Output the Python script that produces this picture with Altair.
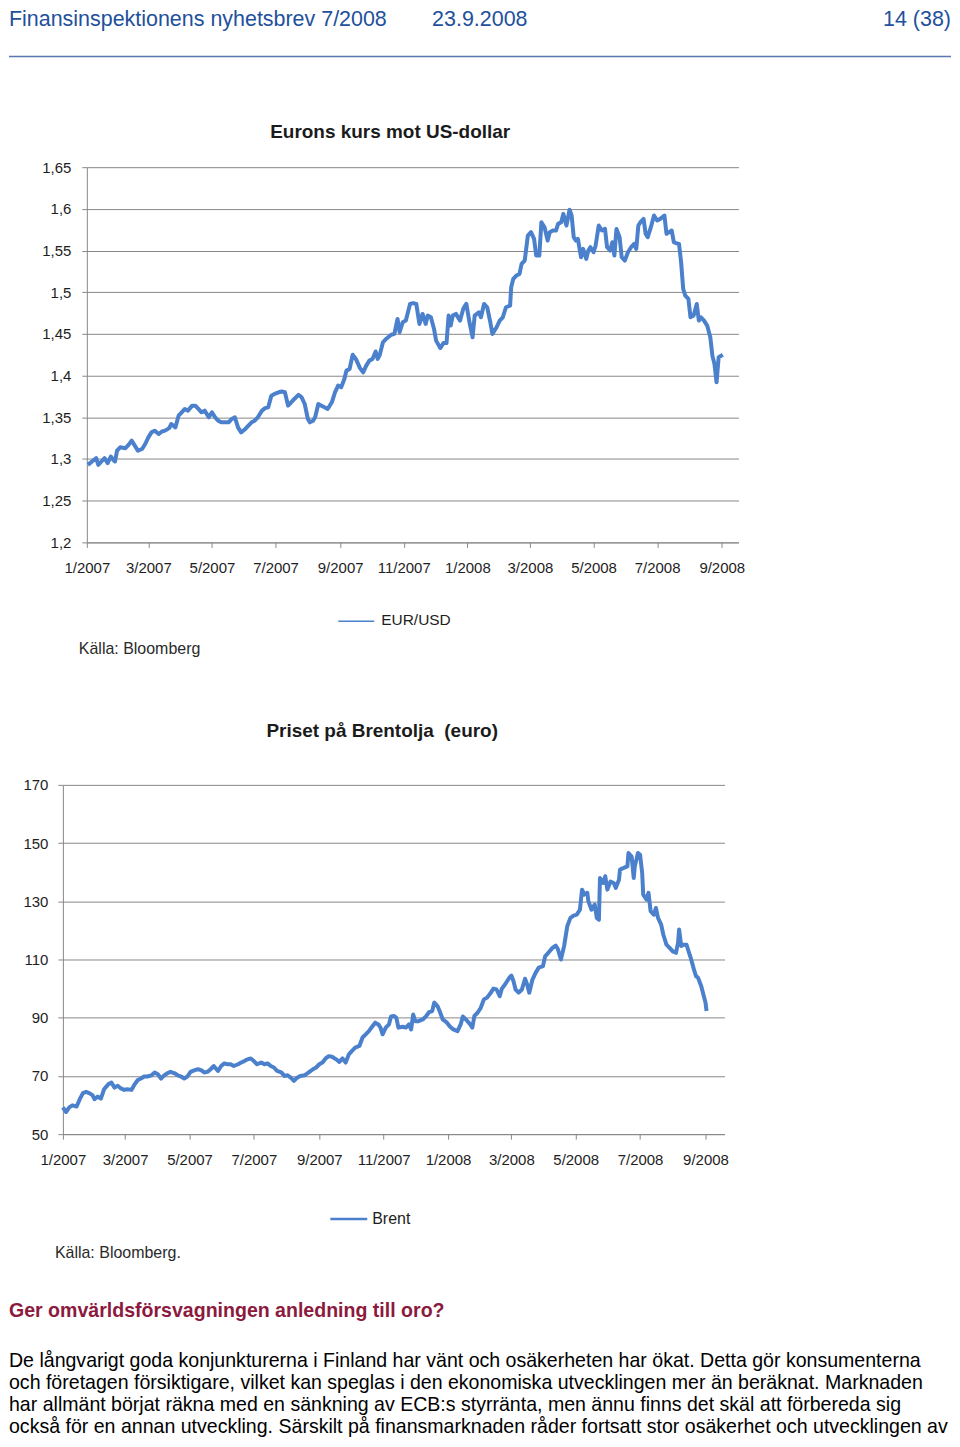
import altair as alt
import pandas as pd

FONT = "Liberation Sans"
BLUE = "#4a80cc"
GRID = "#888888"
TXT = "#1e1e1e"
HEAD_BLUE = "#22509c"
MAROON = "#8b1a3e"

# ---------------- texts ----------------
header_left = "Finansinspektionens nyhetsbrev 7/2008"
header_mid = "23.9.2008"
header_right = "14 (38)"
heading = "Ger omvärldsförsvagningen anledning till oro?"
body_lines = [
    "De långvarigt goda konjunkturerna i Finland har vänt och osäkerheten har ökat. Detta gör konsumenterna",
    "och företagen försiktigare, vilket kan speglas i den ekonomiska utvecklingen mer än beräknat. Marknaden",
    "har allmänt börjat räkna med en sänkning av ECB:s styrränta, men ännu finns det skäl att förbereda sig",
    "också för en annan utveckling. Särskilt på finansmarknaden råder fortsatt stor osäkerhet och utvecklingen av",
]
eur_title = "Eurons kurs mot US-dollar"
brent_title = "Priset på Brentolja\u00a0 (euro)"
eur_series = "EUR/USD"
brent_series = "Brent"
eur_source = "Källa: Bloomberg"
brent_source = "Källa: Bloomberg."

# ---------------- axes ----------------
x_ticks = ["2007-01-01", "2007-03-01", "2007-05-01", "2007-07-01", "2007-09-01", "2007-11-01",
           "2008-01-01", "2008-03-01", "2008-05-01", "2008-07-01", "2008-09-01"]
eur_x_domain = ["2007-01-01", "2008-09-17"]
brent_x_domain = ["2007-01-01", "2008-09-19"]
eur_y_ticks = [1.2, 1.25, 1.3, 1.35, 1.4, 1.45, 1.5, 1.55, 1.6, 1.65]
brent_y_ticks = [50, 70, 90, 110, 130, 150, 170]

# ---------------- data ----------------
eur_dates = [
    "2007-01-02", "2007-01-06", "2007-01-10", "2007-01-12", "2007-01-15", "2007-01-18", "2007-01-21",
    "2007-01-24", "2007-01-27", "2007-01-28", "2007-01-30", "2007-02-02", "2007-02-07", "2007-02-10",
    "2007-02-13", "2007-02-16", "2007-02-19", "2007-02-23", "2007-02-26", "2007-03-01", "2007-03-04",
    "2007-03-07", "2007-03-11", "2007-03-14", "2007-03-17", "2007-03-21", "2007-03-23", "2007-03-27",
    "2007-03-30", "2007-04-02", "2007-04-05", "2007-04-08", "2007-04-12", "2007-04-15", "2007-04-18",
    "2007-04-21", "2007-04-24", "2007-04-28", "2007-05-01", "2007-05-04", "2007-05-07", "2007-05-10",
    "2007-05-13", "2007-05-17", "2007-05-20", "2007-05-23", "2007-05-26", "2007-05-29", "2007-06-02",
    "2007-06-05", "2007-06-08", "2007-06-11", "2007-06-14", "2007-06-18", "2007-06-21", "2007-06-24",
    "2007-06-27", "2007-06-30", "2007-07-04", "2007-07-07", "2007-07-10", "2007-07-13", "2007-07-16",
    "2007-07-19", "2007-07-23", "2007-07-26", "2007-07-29", "2007-08-01", "2007-08-03", "2007-08-06",
    "2007-08-08", "2007-08-11", "2007-08-14", "2007-08-17", "2007-08-20", "2007-08-24", "2007-08-27",
    "2007-08-30", "2007-09-02", "2007-09-05", "2007-09-07", "2007-09-10", "2007-09-13", "2007-09-16",
    "2007-09-20", "2007-09-23", "2007-09-26", "2007-09-29", "2007-10-02", "2007-10-05", "2007-10-07",
    "2007-10-09", "2007-10-12", "2007-10-15", "2007-10-17", "2007-10-20", "2007-10-23", "2007-10-26",
    "2007-10-28", "2007-10-31", "2007-11-03", "2007-11-07", "2007-11-10", "2007-11-13", "2007-11-16",
    "2007-11-19", "2007-11-22", "2007-11-24", "2007-11-27", "2007-11-30", "2007-12-02", "2007-12-06",
    "2007-12-09", "2007-12-12", "2007-12-14", "2007-12-16", "2007-12-18", "2007-12-21", "2007-12-25",
    "2007-12-28", "2007-12-31", "2008-01-03", "2008-01-06", "2008-01-08", "2008-01-12", "2008-01-14",
    "2008-01-17", "2008-01-20", "2008-01-23", "2008-01-25", "2008-01-29", "2008-02-01", "2008-02-04",
    "2008-02-07", "2008-02-11", "2008-02-12", "2008-02-14", "2008-02-17", "2008-02-20", "2008-02-22",
    "2008-02-25", "2008-02-28", "2008-03-02", "2008-03-05", "2008-03-07", "2008-03-10", "2008-03-12",
    "2008-03-15", "2008-03-18", "2008-03-20", "2008-03-23", "2008-03-26", "2008-03-28", "2008-03-31",
    "2008-04-02", "2008-04-05", "2008-04-06", "2008-04-08", "2008-04-10", "2008-04-12", "2008-04-14",
    "2008-04-16", "2008-04-19", "2008-04-21", "2008-04-24", "2008-04-26", "2008-04-28", "2008-05-01",
    "2008-05-03", "2008-05-06", "2008-05-09", "2008-05-12", "2008-05-14", "2008-05-17", "2008-05-19",
    "2008-05-21", "2008-05-23", "2008-05-26", "2008-05-28", "2008-05-31", "2008-06-03", "2008-06-06",
    "2008-06-09", "2008-06-11", "2008-06-13", "2008-06-15", "2008-06-18", "2008-06-20", "2008-06-22",
    "2008-06-25", "2008-06-28", "2008-07-01", "2008-07-04", "2008-07-08", "2008-07-10", "2008-07-15",
    "2008-07-17", "2008-07-19", "2008-07-22", "2008-07-24", "2008-07-26", "2008-07-28", "2008-07-31",
    "2008-08-02", "2008-08-05", "2008-08-08", "2008-08-10", "2008-08-12", "2008-08-15", "2008-08-18",
    "2008-08-21", "2008-08-23", "2008-08-25", "2008-08-27", "2008-08-29", "2008-09-02",
]
eur_values = [
    1.293, 1.297, 1.301, 1.293, 1.297, 1.301, 1.295,
    1.303, 1.298, 1.297, 1.310, 1.314, 1.313, 1.317,
    1.322, 1.316, 1.310, 1.312, 1.318, 1.326, 1.332,
    1.334, 1.330, 1.333, 1.334, 1.337, 1.342, 1.338,
    1.352, 1.356, 1.360, 1.358, 1.364, 1.364, 1.360,
    1.356, 1.358, 1.350, 1.356, 1.350, 1.346, 1.344,
    1.344, 1.344, 1.348, 1.350, 1.338, 1.332, 1.336,
    1.340, 1.344, 1.346, 1.350, 1.358, 1.361, 1.362,
    1.376, 1.378, 1.380, 1.381, 1.380, 1.364, 1.368,
    1.372, 1.377, 1.374, 1.366, 1.348, 1.344, 1.346,
    1.350, 1.366, 1.364, 1.362, 1.360, 1.368, 1.380,
    1.388, 1.386, 1.396, 1.406, 1.408, 1.425, 1.420,
    1.409, 1.404, 1.412, 1.418, 1.420, 1.429, 1.420,
    1.425, 1.440, 1.444, 1.446, 1.449, 1.450, 1.468,
    1.452, 1.464, 1.466, 1.486, 1.487, 1.486, 1.462,
    1.474, 1.462, 1.472, 1.470, 1.456, 1.442, 1.433,
    1.439, 1.439, 1.472, 1.460, 1.472, 1.474, 1.466,
    1.480, 1.486, 1.464, 1.446, 1.472, 1.476, 1.470,
    1.486, 1.482, 1.464, 1.450, 1.458, 1.466, 1.470,
    1.482, 1.484, 1.506, 1.516, 1.520, 1.522, 1.534,
    1.538, 1.568, 1.572, 1.564, 1.544, 1.544, 1.584,
    1.578, 1.562, 1.572, 1.574, 1.574, 1.582, 1.584,
    1.594, 1.580, 1.586, 1.599, 1.592, 1.566, 1.562,
    1.564, 1.542, 1.552, 1.540, 1.550, 1.554, 1.548,
    1.556, 1.580, 1.574, 1.576, 1.554, 1.550, 1.560,
    1.544, 1.576, 1.566, 1.542, 1.538, 1.548, 1.554,
    1.558, 1.552, 1.580, 1.584, 1.588, 1.570, 1.566,
    1.578, 1.592, 1.586, 1.588, 1.592, 1.570, 1.574,
    1.560, 1.559, 1.558, 1.536, 1.504, 1.496, 1.492,
    1.470, 1.472, 1.486, 1.466, 1.470, 1.466, 1.460,
    1.446, 1.424, 1.414, 1.392, 1.422, 1.425,
]

brent_dates = [
    "2007-01-01", "2007-01-04", "2007-01-07", "2007-01-10", "2007-01-14", "2007-01-17", "2007-01-20",
    "2007-01-23", "2007-01-26", "2007-01-29", "2007-01-31", "2007-02-03", "2007-02-06", "2007-02-09",
    "2007-02-13", "2007-02-16", "2007-02-19", "2007-02-22", "2007-02-25", "2007-02-28", "2007-03-03",
    "2007-03-07", "2007-03-10", "2007-03-13", "2007-03-16", "2007-03-19", "2007-03-22", "2007-03-26",
    "2007-03-29", "2007-04-01", "2007-04-04", "2007-04-07", "2007-04-10", "2007-04-13", "2007-04-17",
    "2007-04-20", "2007-04-23", "2007-04-26", "2007-04-29", "2007-05-02", "2007-05-06", "2007-05-09",
    "2007-05-12", "2007-05-15", "2007-05-18", "2007-05-21", "2007-05-24", "2007-05-28", "2007-05-31",
    "2007-06-03", "2007-06-06", "2007-06-09", "2007-06-12", "2007-06-16", "2007-06-19", "2007-06-22",
    "2007-06-25", "2007-06-28", "2007-07-01", "2007-07-04", "2007-07-08", "2007-07-11", "2007-07-14",
    "2007-07-17", "2007-07-20", "2007-07-23", "2007-07-27", "2007-07-30", "2007-08-02", "2007-08-05",
    "2007-08-08", "2007-08-11", "2007-08-14", "2007-08-18", "2007-08-22", "2007-08-26", "2007-08-29",
    "2007-09-01", "2007-09-04", "2007-09-07", "2007-09-10", "2007-09-13", "2007-09-17", "2007-09-20",
    "2007-09-23", "2007-09-26", "2007-09-29", "2007-10-02", "2007-10-05", "2007-10-09", "2007-10-12",
    "2007-10-15", "2007-10-18", "2007-10-21", "2007-10-24", "2007-10-27", "2007-10-29", "2007-10-31",
    "2007-11-03", "2007-11-06", "2007-11-08", "2007-11-11", "2007-11-13", "2007-11-15", "2007-11-19",
    "2007-11-22", "2007-11-25", "2007-11-27", "2007-11-29", "2007-12-01", "2007-12-04", "2007-12-08",
    "2007-12-11", "2007-12-14", "2007-12-17", "2007-12-19", "2007-12-22", "2007-12-24", "2007-12-27",
    "2007-12-31", "2008-01-03", "2008-01-06", "2008-01-10", "2008-01-13", "2008-01-15", "2008-01-18",
    "2008-01-22", "2008-01-24", "2008-01-26", "2008-01-29", "2008-02-01", "2008-02-04", "2008-02-07",
    "2008-02-10", "2008-02-13", "2008-02-16", "2008-02-19", "2008-02-21", "2008-02-24", "2008-02-28",
    "2008-03-01", "2008-03-03", "2008-03-05", "2008-03-08", "2008-03-11", "2008-03-14", "2008-03-16",
    "2008-03-18", "2008-03-21", "2008-03-24", "2008-03-27", "2008-03-31", "2008-04-02", "2008-04-05",
    "2008-04-09", "2008-04-12", "2008-04-14", "2008-04-17", "2008-04-20", "2008-04-23", "2008-04-26",
    "2008-04-29", "2008-05-02", "2008-05-05", "2008-05-07", "2008-05-09", "2008-05-12", "2008-05-13",
    "2008-05-16", "2008-05-19", "2008-05-21", "2008-05-23", "2008-05-24", "2008-05-27", "2008-05-29",
    "2008-05-31", "2008-06-03", "2008-06-06", "2008-06-08", "2008-06-11", "2008-06-12", "2008-06-15",
    "2008-06-19", "2008-06-20", "2008-06-23", "2008-06-25", "2008-06-26", "2008-06-29", "2008-07-01",
    "2008-07-03", "2008-07-04", "2008-07-07", "2008-07-09", "2008-07-11", "2008-07-14", "2008-07-16",
    "2008-07-18", "2008-07-21", "2008-07-23", "2008-07-26", "2008-07-29", "2008-08-01", "2008-08-04",
    "2008-08-06", "2008-08-07", "2008-08-09", "2008-08-11", "2008-08-14", "2008-08-16", "2008-08-18",
    "2008-08-21", "2008-08-23", "2008-08-25", "2008-08-28", "2008-08-30", "2008-09-01", "2008-09-02",
]
brent_values = [
    59.2, 57.6, 59.2, 59.9, 59.5, 62.0, 64.1,
    64.5, 64.1, 63.4, 62.0, 62.9, 62.2, 65.4,
    67.1, 67.7, 66.0, 66.6, 65.7, 65.2, 65.4,
    65.2, 67.1, 68.6, 69.1, 69.8, 69.8, 70.2,
    71.2, 70.6, 69.1, 70.2, 70.9, 71.4, 70.9,
    70.2, 69.8, 69.1, 69.8, 71.4, 72.0, 72.3,
    72.0, 71.2, 71.4, 72.3, 73.4, 71.7, 73.4,
    74.3, 74.0, 74.0, 73.4, 74.0, 74.6, 75.1,
    75.7, 76.0, 75.1, 74.0, 74.6, 74.0, 74.3,
    73.4, 72.9, 71.7, 71.2, 70.0, 70.2, 69.4,
    68.3, 69.4, 70.0, 70.2, 71.2, 72.3, 72.9,
    74.0, 74.6, 76.0, 76.8, 76.6, 75.7, 74.8,
    76.0, 74.6, 77.4, 78.6, 79.7, 80.3, 83.2,
    84.3, 85.4, 86.9, 88.3, 87.7, 86.6, 84.3,
    86.6, 87.7, 90.4, 90.6, 90.0, 86.6, 86.9,
    86.6, 87.7, 86.0, 91.1, 88.8, 88.8, 89.4,
    90.4, 91.9, 92.3, 95.2, 94.0, 92.3, 89.4,
    88.3, 86.9, 86.0, 85.4, 87.7, 90.4, 89.4,
    87.7, 86.6, 90.6, 91.7, 93.4, 96.3, 96.9,
    98.3, 100.0, 99.7, 97.4, 100.0, 101.4, 103.7,
    104.5, 102.6, 99.7, 98.6, 99.7, 103.4, 101.4,
    98.6, 103.1, 105.4, 107.2, 107.7, 111.1, 112.3,
    114.0, 114.8, 113.7, 110.0, 114.6, 121.4, 124.3,
    125.1, 125.4, 127.1, 134.0, 132.3, 132.9, 130.0,
    127.1, 128.9, 124.3, 123.7, 138.0, 136.3, 138.6,
    134.0, 136.8, 136.3, 134.6, 137.4, 140.9, 141.4,
    142.0, 146.6, 145.4, 138.0, 142.0, 146.6, 146.0,
    139.7, 132.3, 130.6, 132.9, 126.6, 125.4, 127.7,
    124.3, 122.0, 118.6, 115.1, 114.0, 112.8, 112.3,
    115.7, 120.3, 114.6, 115.1, 115.1, 112.8, 110.6,
    106.6, 104.3, 103.7, 100.8, 98.0, 95.2, 92.3,
]


def dt(s):
    y, m, d = (int(p) for p in s.split("-"))
    return alt.DateTime(year=y, month=m, date=d)


def one(label):
    return pd.DataFrame({"label": [label]})


def text_layer(label, x, y, size, color=TXT, weight="normal", align="left", baseline="middle"):
    return alt.Chart(one(label)).mark_text(
        font=FONT, fontSize=size, color=color, fontWeight=weight, align=align, baseline=baseline
    ).encode(text="label:N", x=alt.value(x), y=alt.value(y))


def anchor(left, top, bottom):
    # invisible (white) hairline that fixes the extent of a row in the page layout
    return alt.Chart(one("")).mark_rule(color="white", strokeWidth=0.1).encode(
        x=alt.value(left), y=alt.value(top), y2=alt.value(bottom)
    )


def spacer():
    # 1px blank cell so that each chart can sit at its own distance from the page edge
    return alt.Chart(one("")).mark_rule(color="white", strokeWidth=0.1).encode(
        x=alt.value(0), y=alt.value(0), y2=alt.value(1)
    ).properties(width=1, height=1)


def x_axis():
    return alt.Axis(
        values=[dt(t) for t in x_ticks], format="%-m/%Y", title=None, grid=False,
        labelFlush=False, labelOverlap=False, labelFont=FONT, labelFontSize=15, labelColor=TXT,
        labelPadding=13, ticks=True, tickSize=5, tickColor=GRID, tickWidth=1,
        domainColor=GRID, domainWidth=1,
    )


def y_axis(values, label_expr, pad):
    return alt.Axis(
        values=values, labelExpr=label_expr, title=None, grid=True, gridColor=GRID, gridWidth=1,
        labelFont=FONT, labelFontSize=15, labelColor=TXT, labelPadding=pad,
        ticks=True, tickSize=5, tickColor=GRID, tickWidth=1, domainColor=GRID, domainWidth=1,
    )


# ---------------- row 0: page header ----------------
header = alt.layer(
    text_layer(header_left, 0, 0, 21.5, HEAD_BLUE, baseline="top"),
    text_layer(header_mid, 424, 0, 21.5, HEAD_BLUE, baseline="top"),
    text_layer(header_right, 944, 0, 21.5, HEAD_BLUE, align="right", baseline="top"),
    alt.Chart(one("")).mark_rule(color="#5a78ad", strokeWidth=1.5).encode(
        x=alt.value(0), x2=alt.value(944), y=alt.value(47)
    ),
).properties(width=944, height=89)

# ---------------- row 1: EUR/USD ----------------
eur_df = pd.DataFrame({"date": eur_dates, "value": eur_values, "series": eur_series})
W1, H1 = 653, 376
eur_line = alt.Chart(eur_df).mark_line(color=BLUE, strokeWidth=4, strokeJoin="round").encode(
    x=alt.X("date:T", scale=alt.Scale(domain=[dt(d) for d in eur_x_domain], nice=False), axis=x_axis()),
    y=alt.Y("value:Q", scale=alt.Scale(domain=[1.2, 1.65], nice=False, zero=False),
            axis=y_axis(eur_y_ticks, "replace(format(datum.value, '.2~f'), '.', ',')", 11)),
)
eur_chart = alt.layer(
    eur_line,
    text_layer(eur_title, 304, -35, 19, "#1b1b1b", weight="bold", align="center"),
    alt.Chart(one(eur_series)).mark_rule(color=BLUE, strokeWidth=1.5).encode(
        x=alt.value(252), x2=alt.value(288), y=alt.value(H1 + 79)
    ),
    text_layer(eur_series, 295, H1 + 78, 15.5),
    text_layer(eur_source, -8, H1 + 107, 16, "#2a2a2a"),
    anchor(-76, -68, H1 + 136),
).properties(width=W1, height=H1)

# ---------------- row 2: Brent ----------------
brent_df = pd.DataFrame({"date": brent_dates, "value": brent_values, "series": brent_series})
W2, H2 = 663, 350
brent_line = alt.Chart(brent_df).mark_line(color=BLUE, strokeWidth=4, strokeJoin="round").encode(
    x=alt.X("date:T", scale=alt.Scale(domain=[dt(d) for d in brent_x_domain], nice=False), axis=x_axis()),
    y=alt.Y("value:Q", scale=alt.Scale(domain=[50, 170], nice=False, zero=False),
            axis=y_axis(brent_y_ticks, "format(datum.value, 'd')", 10)),
)
brent_chart = alt.layer(
    brent_line,
    text_layer(brent_title, 320, -54, 19, "#1b1b1b", weight="bold", align="center"),
    alt.Chart(one(brent_series)).mark_rule(color=BLUE, strokeWidth=2.5).encode(
        x=alt.value(268), x2=alt.value(305), y=alt.value(H2 + 85)
    ),
    text_layer(brent_series, 310, H2 + 85, 16),
    text_layer(brent_source, -8, H2 + 119, 16, "#2a2a2a"),
    anchor(-52, -105, H2 + 150),
).properties(width=W2, height=H2)

# ---------------- row 3: article text ----------------
heading_y = 26
body_y = [76.5, 98.5, 120.5, 142.5]
text_row = alt.layer(
    text_layer(heading, 0, heading_y, 19.6, MAROON, weight="bold"),
    *[text_layer(line, 0, y, 19.6, "#000000") for line, y in zip(body_lines, body_y)],
).properties(width=944, height=142)

chart = alt.vconcat(
    header,
    alt.hconcat(spacer(), eur_chart, spacing=0),
    alt.hconcat(spacer(), brent_chart, spacing=0),
    text_row,
    spacing=0,
).properties(padding=0).configure_view(stroke=None)

chart.save("out.html", embed_options={"renderer": "svg", "actions": False})
